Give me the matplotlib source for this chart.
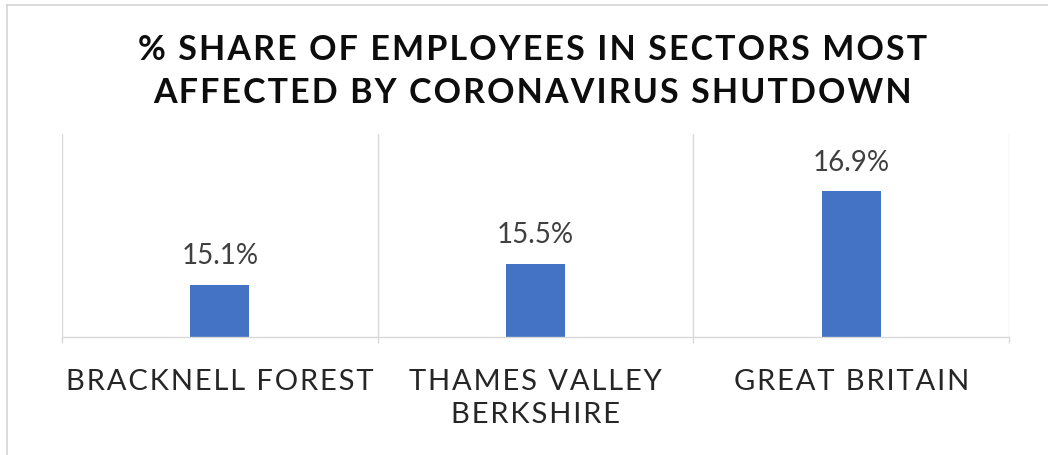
import matplotlib
matplotlib.use("Agg")
import matplotlib.pyplot as plt
from matplotlib.lines import Line2D

regions = ["BRACKNELL FOREST", "THAMES VALLEY\nBERKSHIRE", "GREAT BRITAIN"]
share_pct = [15.1, 15.5, 16.9]
title_lines = ["% SHARE OF EMPLOYEES IN SECTORS MOST",
               "AFFECTED BY CORONAVIRUS SHUTDOWN"]

BAR = "#4472c4"
GRID = "#d9d9d9"
FONT = ["Lato", "DejaVu Sans"]


def tracked(s, gap="\u200a"):
    # spread letters out a little, Excel-style character spacing
    return "\n".join(gap.join(line) for line in s.split("\n"))


fig = plt.figure(figsize=(10.48, 4.56), dpi=100)
fig.patch.set_facecolor("white")

# frame lines of the chart object (top and left only)
fig.add_artist(Line2D([7 / 1048, 1], [1 - 5.5 / 456] * 2, color="#d4d4d4",
                      linewidth=1.2, transform=fig.transFigure))
fig.add_artist(Line2D([7 / 1048] * 2, [0, 1 - 5.5 / 456], color="#d4d4d4",
                      linewidth=1.2, transform=fig.transFigure))

ax = fig.add_axes([62 / 1048, 1 - 338 / 456, (1009 - 62) / 1048, (338 - 135) / 456])
x = range(len(share_pct))
ax.bar(x, share_pct, width=0.187, color=BAR, zorder=2)
ax.set_xlim(-0.5, len(share_pct) - 0.5)
ax.set_ylim(14.1, 18.0)

for b in [i - 0.5 for i in range(len(share_pct) + 1)]:
    ax.axvline(b, color=GRID, linewidth=1, zorder=1)

for side in ("top", "right", "left"):
    ax.spines[side].set_visible(False)
ax.spines["bottom"].set_color(GRID)
ax.spines["bottom"].set_linewidth(1)
ax.set_yticks([])
ax.set_xticks([i - 0.5 for i in range(len(share_pct) + 1)], minor=True)
ax.tick_params(axis="x", which="minor", length=4, color=GRID, width=1)
ax.tick_params(axis="x", which="major", length=0, pad=22)
ax.set_xticks(list(x))
ax.set_xticklabels([tracked(r) for r in regions], family=FONT, fontsize=21,
                   color="#262626", linespacing=1.36)

for i, v in zip(x, share_pct):
    ax.annotate(f"{v:.1f}%", (i, v), xytext=(0, 12), textcoords="offset points",
                ha="center", va="bottom", fontsize=20, color="#404040",
                family=FONT)

for k, line in enumerate(title_lines):
    fig.text(533 / 1048, 1 - (50 + 43 * k) / 456, tracked(line), ha="center",
             va="center", fontsize=24.5, fontweight="bold", color="#0d0d0d",
             family=FONT)

fig.savefig("out.png", dpi=100)
